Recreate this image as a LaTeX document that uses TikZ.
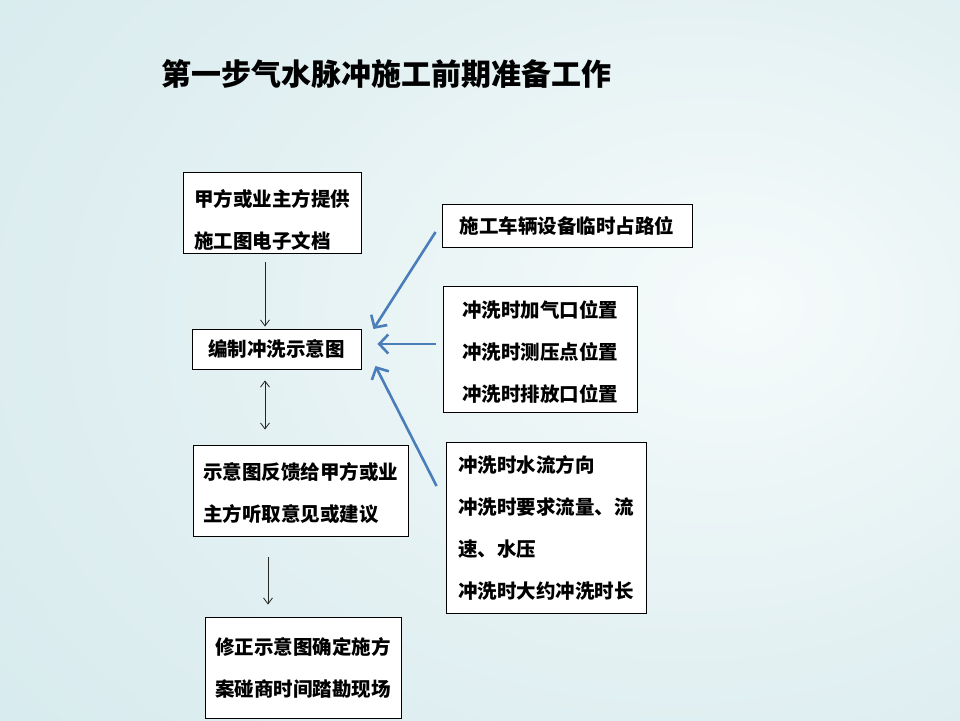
\documentclass[tikz,border=0pt]{standalone}
\usepackage{fontspec}
\newfontfamily\cjk{Noto Sans CJK SC}
\usetikzlibrary{arrows.meta}
\definecolor{bgin}{RGB}{246,251,251}
\definecolor{bgmid}{RGB}{226,240,242}
\definecolor{bgout}{RGB}{200,227,231}
\definecolor{arrblue}{RGB}{74,126,187}
\pgfdeclareradialshading{bgshade}{\pgfpoint{14bp}{4bp}}{color(0bp)=(bgin); color(25bp)=(bgmid); color(70bp)=(bgout); color(100bp)=(bgout)}
\newcommand{\lowr}[1]{\rule{0pt}{#1}}
\tikzset{
  box/.style={draw=black, line width=0.9pt, fill=white, inner sep=0pt, align=left,
    font=\cjk\bfseries\fontsize{19.5}{42}\selectfont},
  blk/.style={draw=black!85, line width=0.8pt, -{Straight Barb[length=6pt,width=9pt]}},
  blkd/.style={draw=black!85, line width=0.8pt, {Straight Barb[length=6pt,width=9pt]}-{Straight Barb[length=6pt,width=9pt]}},
  blu/.style={draw=arrblue, line width=2.6pt, -{Straight Barb[length=9pt,width=19pt]}},
}
\begin{document}
\begin{tikzpicture}[x=1pt,y=-1pt]
\useasboundingbox (0,0) rectangle (960,720);
\shade[shading=bgshade] (0,0) rectangle (960,720);

\node[font=\cjk\bfseries\fontsize{30}{36}\selectfont, anchor=west] (title) at (158,74) {第一步气水脉冲施工前期准备工作};

\node[box, minimum width=178pt, minimum height=81pt] (A) at (272,212.5) {\lowr{31pt}甲方或业主方提供\\施工图电子文档};
\node[box, minimum width=169pt, minimum height=40pt] (B) at (276.5,349) {编制冲洗示意图};
\node[box, minimum width=215pt, minimum height=91pt] (C) at (300.5,490.5) {\lowr{23pt}示意图反馈给甲方或业\\主方听取意见或建议};
\node[box, minimum width=196pt, minimum height=101pt] (D) at (303,667.5) {修正示意图确定施方\\案碰商时间踏勘现场};

\node[box, minimum width=250pt, minimum height=43pt] (E) at (567,225.5) {施工车辆设备临时占路位};
\node[box, minimum width=194pt, minimum height=126pt] (F) at (540,349) {\lowr{22pt}冲洗时加气口位置\\冲洗时测压点位置\\冲洗时排放口位置};
\node[box, minimum width=200pt, minimum height=171pt] (G) at (546,527.5) {冲洗时水流方向\\冲洗时要求流量、流\\速、水压\\冲洗时大约冲洗时长};

\draw[blk, shorten <=9pt, shorten >=2pt] (A.south -| 265,0) -- (B.north -| 265,0);
\draw[blkd, shorten <=11pt, shorten >=15pt] (B.south -| 265,0) -- (C.north -| 265,0);
\draw[blk, shorten <=21pt, shorten >=12pt] (C.south -| 268,0) -- (D.north -| 268,0);

\draw[blu] ([xshift=-6pt,yshift=-6.5pt]E.west) -- ([xshift=12pt,yshift=20pt]B.east);
\draw[blu] ([xshift=-7pt,yshift=5pt]F.west) -- ([xshift=16pt,yshift=5pt]B.east);
\draw[blu] ([xshift=-9pt,yshift=41.5pt]G.west) -- ([xshift=14pt,yshift=-17pt]B.east);
\end{tikzpicture}
\end{document}
